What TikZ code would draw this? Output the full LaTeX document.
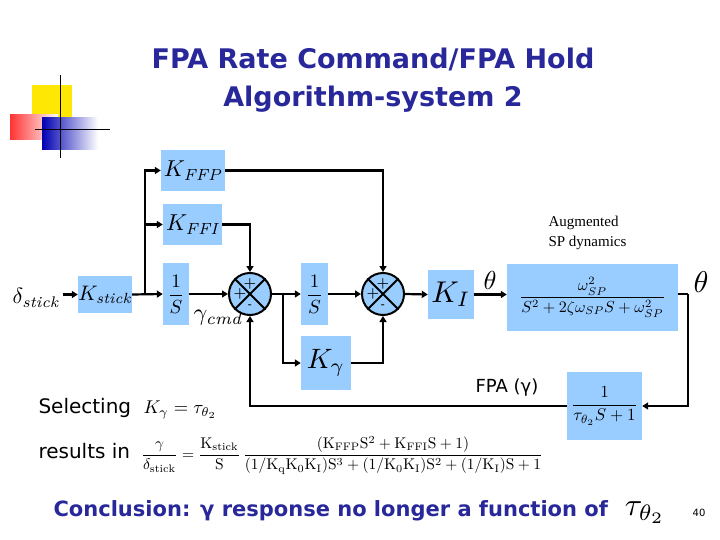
\documentclass[tikz,border=0pt]{standalone}
\usepackage{amsmath,amssymb,graphicx}
\usepackage{fontspec}
\setsansfont{DejaVu Sans}
\newfontfamily\tserif{Liberation Serif}
\usetikzlibrary{arrows.meta}
\definecolor{bx}{HTML}{99CCFF}
\definecolor{ttl}{HTML}{28289A}
\newcommand\mysz[2]{\scalebox{#1}{$#2$}}
\begin{document}
\begin{tikzpicture}[x=1pt,y=-1pt,
 blk/.style={fill=bx,draw=none,inner sep=0pt},
 ln/.style={line width=2.2pt},
 ar/.style={line width=2.2pt,-{Triangle[length=6pt,width=7pt]}},
 sumj/.style={circle,draw,line width=2pt,fill=bx,minimum size=42pt,inner sep=0pt}]
\useasboundingbox (0,0) rectangle (720,540);
% decoration
\fill[yellow!90!orange] (32,85) rectangle (72,122);
\shade[left color=red!80,right color=white] (10,115) rectangle (58,140);
\shade[left color=blue!70!black,right color=white] (42,118) rectangle (98,150);
\draw[line width=1pt] (60,75) -- (60,158);
\draw[line width=1pt] (35,130) -- (110,130);
% title
\node[font=\sffamily\bfseries\fontsize{27}{38}\selectfont,text=ttl,align=center] (title) at (373,80) {FPA Rate Command/FPA Hold\\Algorithm-system 2};
% blocks
\node[inner sep=0pt] (ds) at (36,298) {\mysz{2.2}{\delta_{\mathit{stick}}}};
\node[blk,minimum width=54pt,minimum height=37pt] (ks) at (105,294.5) {\mysz{2.1}{K_{\mathit{stick}}}};
\node[blk,minimum width=26pt,minimum height=62pt] (i1) at (176,294) {\mysz{1.9}{\dfrac{1}{S}}};
\node[blk,minimum width=64pt,minimum height=41pt] (kffp) at (193,170.5) {\mysz{2.3}{K_{\mathit{FFP}}}};
\node[blk,minimum width=59pt,minimum height=41pt] (kffi) at (192.5,224.5) {\mysz{2.3}{K_{\mathit{FFI}}}};
\node[blk,minimum width=27pt,minimum height=62pt] (i2) at (314.5,294) {\mysz{1.9}{\dfrac{1}{S}}};
\node[blk,minimum width=50pt,minimum height=54pt] (kg) at (326,363) {\mysz{2.8}{K_\gamma}};
\node[blk,minimum width=46pt,minimum height=49pt] (ki) at (451,294.5) {\mysz{3}{K_I}};
\node[blk,minimum width=171pt,minimum height=67pt] (sp) at (592.5,297.5) {\mysz{1.6}{\dfrac{\omega_{SP}^2}{S^2+2\zeta\omega_{SP}S+\omega_{SP}^2}}};
\node[blk,minimum width=75pt,minimum height=68pt] (fpa) at (604.5,406) {\mysz{1.7}{\dfrac{1}{\tau_{\theta_2}S+1}}};
\node[sumj] (s1) at (250,294) {};
\node[sumj] (s2) at (383,294) {};
\foreach \s in {s1,s2}{
 \draw[line width=2pt] (\s.45)--(\s.225) (\s.135)--(\s.315);
 \node[font=\bfseries\Large] at ([yshift=10pt]\s.center) {+};
 \node[font=\bfseries\Large] at ([xshift=-10pt]\s.center) {+};
 \node[font=\bfseries] at ([yshift=-12pt]\s.center) {-};}
% labels
\node (gc) at (218,318) {\mysz{2.4}{\gamma_{\mathit{cmd}}}};
\node (th1) at (490,280) {\mysz{2.6}{\theta}};
\node (th2) at (701,282) {\mysz{3}{\theta}};
\node[font=\tserif\fontsize{15}{20}\selectfont,align=left,anchor=west] (aug) at (545,233) {Augmented\\SP dynamics};
\node[font=\sffamily\fontsize{18}{18}\selectfont] (fl) at (507,388) {FPA (γ)};
% connectors
\coordinate (b) at (145,294);
\draw[ar] (ds.east |- ks.west) ++(3pt,0) -- (ks.west);
\draw[ar] (ks.east) -- (i1.west);
\draw[ar] (b) |- (kffp.west);
\draw[ar] (b) |- (kffi.west);
\draw[ar] (i1.east) -- (s1.west);
\draw[ar] (kffi.east) -| (s1.north);
\draw[ar] (kffp.east) -| (s2.north);
\draw[ar] (s1.east) -- (i2.west);
\coordinate (b2) at (283,294);
\draw[ar] (b2) |- (kg.west);
\draw[ar] (i2.east) -- (s2.west);
\draw[ar] (kg.east) -| (s2.south);
\draw[ar] (s2.east) -- (ki.west);
\draw[ar] (ki.east) -- (ki.east -| sp.west);
\coordinate (r) at (688,294);
\draw[ln] (sp.east |- r) -- (r);
\draw[ar] (r) |- (fpa.east);
\draw[ar] (fpa.west) -| (s1.south);
% text
\node[font=\sffamily\fontsize{20}{20}\selectfont,anchor=west] (sel) at (35,408) {Selecting};
\node[anchor=west] (seleq) at (140,410) {\mysz{1.85}{K_\gamma=\tau_{\theta_2}}};
\node[font=\sffamily\fontsize{20}{20}\selectfont,anchor=west] (res) at (35,451) {results in};
\node[anchor=west,inner sep=0pt] (reseq) at (141,455) {\mysz{1.55}{\dfrac{\gamma}{\mathrm{\delta_{stick}}}=\dfrac{\mathrm{K_{stick}}}{\mathrm{S}}\,\dfrac{(\mathrm{K_{FFP}S^2+K_{FFI}S+1})}{\mathrm{(1/K_qK_0K_I)S^3+(1/K_0K_I)S^2+(1/K_I)S+1}}}};
\node[font=\sffamily\bfseries\fontsize{21}{21}\selectfont,text=ttl,anchor=west] (conc) at (50,511) {Conclusion: γ response no longer a function of};
\node (tau) at (645,513) {\mysz{3.2}{\tau_{\theta_2}}};
\node[font=\sffamily\fontsize{10}{10}\selectfont] (pg) at (699,513) {40};
\end{tikzpicture}
\end{document}
